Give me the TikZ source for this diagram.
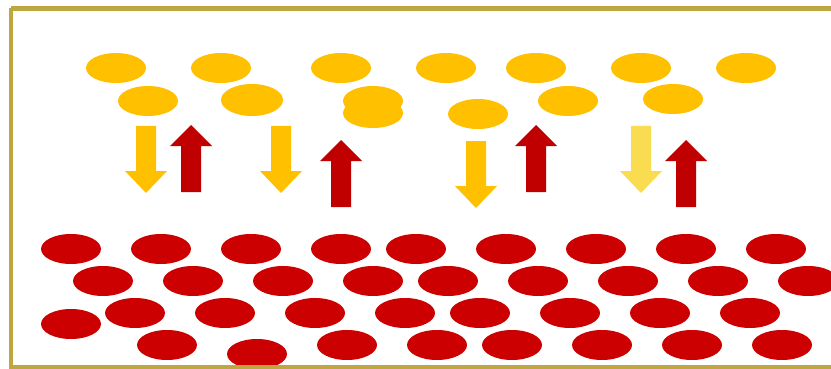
\documentclass[tikz,border=0pt]{standalone}
\usetikzlibrary{shapes.geometric}
\definecolor{ylw}{HTML}{FFC000}
\definecolor{lylw}{HTML}{FADC50}
\definecolor{redell}{HTML}{CC0000}
\definecolor{redarr}{HTML}{C00000}
\definecolor{frame}{RGB}{190,167,64}
\tikzset{
  ye/.style={ellipse, fill=ylw, draw=none, minimum width=60pt, minimum height=30pt, inner sep=0pt},
  re/.style={ellipse, fill=redell, draw=none, minimum width=60pt, minimum height=30pt, inner sep=0pt},
  blockdown/.pic={\path[pic actions] (-10,0) -- (10,0) -- (10,45) -- (21,45) -- (0,67) -- (-21,45) -- (-10,45) -- cycle;},
  blockup/.pic={\path[pic actions] (-10,0) -- (10,0) -- (10,-46) -- (21,-46) -- (0,-67) -- (-21,-46) -- (-10,-46) -- cycle;}
}
\begin{document}
\begin{tikzpicture}[x=1pt,y=-1pt]
\useasboundingbox (0,0) rectangle (831,369);
\fill[white] (0,0) rectangle (831,369);
% yellow top row
\foreach \x [count=\i] in {116,221,341,446,536,641,746}
  \node[ye] (ya\i) at (\x,68) {};
% yellow second row
\node[ye] (yb1) at (148,101) {};
\node[ye, minimum width=62pt, minimum height=32pt] (yb2) at (252,100) {};
\node[ye] (yb3) at (373,101) {};
\node[ye] (yb4) at (373,113) {};
\node[ye] (yb5) at (478,114) {};
\node[ye] (yb6) at (568,101) {};
\node[ye] (yb7) at (673,99) {};
% arrows
\pic[fill=ylw] at (146,126) {blockdown};
\pic[fill=redarr] at (191,192) {blockup};
\pic[fill=ylw] at (281,126) {blockdown};
\pic[fill=redarr] at (341,207) {blockup};
\pic[fill=ylw] at (476,141) {blockdown};
\pic[fill=redarr] at (536,192) {blockup};
\pic[fill=lylw] at (641,126) {blockdown};
\pic[fill=redarr] at (686,207) {blockup};
% red rows
\foreach \x [count=\i] in {71,161,251,341,416,506,596,686,776}
  \node[re] (ra\i) at (\x,249) {};
\foreach \x [count=\i] in {103,193,283,373,448,538,628,718,808}
  \node[re] (rb\i) at (\x,281) {};
\foreach \x [count=\i] in {135,225,315,405,480,570,660,750}
  \node[re] (rc\i) at (\x,313) {};
\node[re] (rc0) at (71,324) {};
\foreach \x [count=\i] in {167,347,437,512,602,692,782}
  \node[re] (rd\i) at (\x,345) {};
\node[re] (rd0) at (257,354) {};
% frame
\draw[frame, line width=4.5pt] (11,8.5) -- (840,8.5);
\draw[frame, line width=4.5pt] (11,8.5) -- (11,367.5) -- (840,367.5);
\end{tikzpicture}
\end{document}
